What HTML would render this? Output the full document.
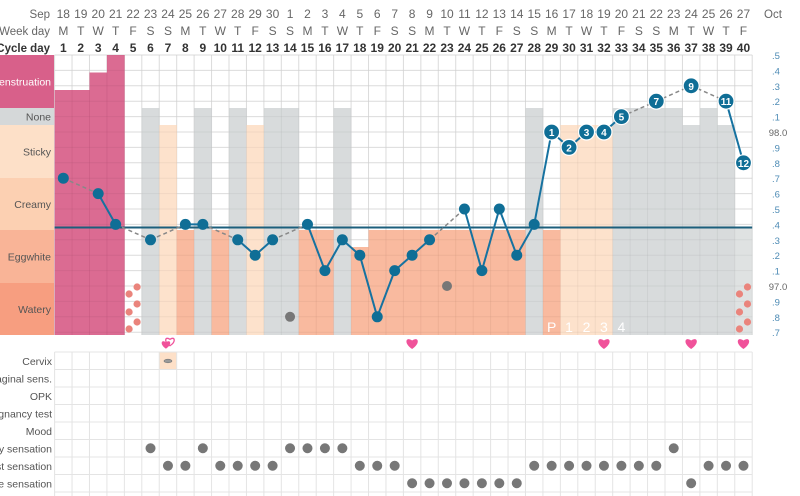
<!DOCTYPE html>
<html><head><meta charset="utf-8"><style>
html,body{margin:0;padding:0;background:#fff;width:800px;height:496px;overflow:hidden}
svg{display:block;font-family:"Liberation Sans",sans-serif}
</style></head><body>
<svg id="chart" width="800" height="496" viewBox="0 0 800 496" xmlns="http://www.w3.org/2000/svg"></svg>
<script>
const dates=[18,19,20,21,22,23,24,25,26,27,28,29,30,1,2,3,4,5,6,7,8,9,10,11,12,13,14,15,16,17,18,19,20,21,22,23,24,25,26,27];
const weekdays=["M","T","W","T","F","S","S","M","T","W","T","F","S","S","M","T","W","T","F","S","S","M","T","W","T","F","S","S","M","T","W","T","F","S","S","M","T","W","T","F"];
const menses=[3,3,4,5];
const fluid=["m","m","m","m","","none","sticky","egg","none","egg","none","sticky","none","none","egg","egg","none","egglow","egg","egg","egg","egg","egg","egg","egg","egg","egg","none","egg","sticky","sticky","sticky","none","none","none","none","none2","none","none2","none3"];
const temps=[97.7,null,97.6,97.4,null,97.3,null,97.4,97.4,null,97.3,97.2,97.3,null,97.4,97.1,97.3,97.2,96.8,97.1,97.2,97.3,null,97.5,97.1,97.5,97.2,97.4,98.0,97.9,98.0,98.0,98.1,null,98.2,null,98.3,null,98.2,97.8];
const excludedDays=[14,23];
const excludedTemps=[96.8,97.0];
const coverline=97.38;
const yTicks=[".5",".4",".3",".2",".1","98.0",".9",".8",".7",".6",".5",".4",".3",".2",".1","97.0",".9",".8",".7"];
const heartDays=[7,21,32,37,40];
const dryDays=[6,9,14,15,16,17,36];
const moistDays=[7,8,10,11,12,13,18,19,20,28,29,30,31,32,33,34,35,38,39,40];
const creativeDays=[21,22,23,24,25,26,27,37];
const spotDays=[5,40];

const svg=document.getElementById('chart');
const NS="http://www.w3.org/2000/svg";
function mk(tag,attrs,parent){const e=document.createElementNS(NS,tag);for(const k in attrs)e.setAttribute(k,attrs[k]);(parent||svg).appendChild(e);return e;}
const X0=54.6,CW=17.44,TOP=55,BOT=335;
const xL=d=>X0+(d-1)*CW; const xC=d=>X0+(d-0.5)*CW;
const yT=t=>TOP+(98.5-t)*154;
const fluidTop={none:108,none2:125,none3:228,sticky:125,egg:230,egglow:247};
const fluidCol={none:"#d5d8d9",none2:"#d5d8d9",none3:"#dcdfe0",sticky:"#fde0c8",egg:"#f9b497",egglow:"#f9b497"};

let t=mk('text',{x:50,y:18,'text-anchor':'end','font-size':11.5,fill:'#666'});t.textContent='Sep';

t=mk('text',{x:50,y:35,'text-anchor':'end','font-size':11.5,fill:'#666'});t.textContent='Week day';

t=mk('text',{x:50,y:52,'text-anchor':'end','font-size':11.5,'font-weight':'bold',fill:'#333'});t.textContent='Cycle day';

t=mk('text',{x:764,y:18,'font-size':11.5,fill:'#666'});t.textContent='Oct';

for(let i=0;i<40;i++){
  let a=mk('text',{x:xC(i+1),y:18,'text-anchor':'middle','font-size':12,fill:'#666'});a.textContent=dates[i];
  
  a=mk('text',{x:xC(i+1),y:35,'text-anchor':'middle','font-size':12,fill:'#666'});a.textContent=weekdays[i];
  
  a=mk('text',{x:xC(i+1),y:52,'text-anchor':'middle','font-size':12,'font-weight':'bold',fill:'#333'});a.textContent=i+1;
  
}
const bands=[["Menstruation",55,108,"#d8608a","#fff"],["None",108,125,"#d5d8d9","#555"],["Sticky",125,178,"#fde0c8","#555"],["Creamy",178,230,"#fcd0b2","#555"],["Eggwhite",230,283,"#f9b497","#555"],["Watery",283,335,"#f79e80","#555"]];
bands.forEach(b=>{
  const r=mk('rect',{x:0,y:b[1],width:54,height:b[2]-b[1],fill:b[3]});
  
  const tx=mk('text',{x:51,y:(b[1]+b[2])/2+4,'text-anchor':'end','font-size':10.5,fill:b[4]});tx.textContent=b[0];
  
});
for(let d=0;d<=40;d++){const l=mk('line',{x1:X0+d*CW,x2:X0+d*CW,y1:TOP,y2:BOT,stroke:'#e4e4e4','stroke-width':1});}
for(let k=0;k<19;k++){const y=TOP+k*15.4;const l=mk('line',{x1:X0,x2:X0+40*CW,y1:y,y2:y,stroke:'#e4e4e4'});}
fluid.forEach((f,i)=>{
  const d=i+1;
  if(f==='m'){const top=TOP+(5-menses[i])*17.5;const r=mk('rect',{x:xL(d),y:top,width:CW+0.3,height:BOT-top,fill:'#d8608a',opacity:0.93});
    return;}
  if(!f)return;
  const r=mk('rect',{x:xL(d),y:fluidTop[f],width:CW+0.3,height:BOT-fluidTop[f],fill:fluidCol[f],opacity:0.92});
  
});
for(let d=0;d<=40;d++){const l=mk('line',{x1:X0+d*CW,x2:X0+d*CW,y1:TOP,y2:BOT,stroke:'rgba(0,0,0,0.04)'});}
for(let k=0;k<19;k++){const y=TOP+k*15.4;const l=mk('line',{x1:X0,x2:X0+40*CW,y1:y,y2:y,stroke:'rgba(0,0,0,0.04)'});}
["P","1","2","3","4"].forEach((s,i)=>{const a=mk('text',{x:xC(29+i),y:332,'text-anchor':'middle','font-size':14,fill:'#fff'});a.textContent=s;
  });
yTicks.forEach((s,k)=>{const a=mk('text',{x:s.length>2?778:772,y:TOP+k*15.4+4,'text-anchor':s.length>2?'middle':'start','font-size':9.5,fill:s.length>2?'#666':'#4d8bb5'});a.textContent=s;
  });
spotDays.forEach(d=>{[[-4,-41],[4,-48],[-4,-23],[4,-31],[-4,-6],[4,-13]].forEach(o=>{const c=mk('circle',{cx:xC(d)+o[0],cy:BOT+o[1],r:3.6,fill:'#ea847c'});
  });});
const cl=mk('line',{x1:X0,x2:X0+40*CW,y1:yT(coverline),y2:yT(coverline),stroke:'#1c5f7c','stroke-width':2});

let prev=null;
temps.forEach((v,i)=>{if(v==null)return;if(prev!=null){const dashed=(i-prev)>1;
  const l=mk('line',{x1:xC(prev+1),y1:yT(temps[prev]),x2:xC(i+1),y2:yT(v),stroke:dashed?'#888':'#1672a0','stroke-width':dashed?1.5:2,'stroke-dasharray':dashed?'4,3':'none'});
  }prev=i;});
excludedDays.forEach((d,k)=>{const c=mk('circle',{cx:xC(d),cy:yT(excludedTemps[k]),r:5,fill:'#777'});});
temps.forEach((v,i)=>{if(v==null)return;const d=i+1;
  if(d>=29){const c=mk('circle',{cx:xC(d),cy:yT(v),r:8,fill:'#0f6e96',stroke:'#fff','stroke-width':1.2});
    const a=mk('text',{x:xC(d),y:yT(v)+4,'text-anchor':'middle','font-size':10,'font-weight':'bold',fill:'#fff'});a.textContent=d-28;}
  else{const c=mk('circle',{cx:xC(d),cy:yT(v),r:5.5,fill:'#0f6e96'});}
});
function heart(cx,cy,s,fill,stroke){return mk('path',{d:`M${cx} ${cy+5*s} C${cx-9*s} ${cy-1*s} ${cx-6*s} ${cy-8*s} ${cx} ${cy-3.5*s} C${cx+6*s} ${cy-8*s} ${cx+9*s} ${cy-1*s} ${cx} ${cy+5*s}Z`,fill:fill,stroke:stroke||'none','stroke-width':1.3});}
heartDays.forEach(d=>{
  if(d===7){let h=heart(xC(d)+2,342,0.75,'#fff','#f0529a');
    h=heart(xC(d)-2,345,0.75,'#f0529a');}
  else{const h=heart(xC(d),344,1,'#f0529a');}
});
const rows=["Cervix","Vaginal sens.","OPK","Pregnancy test","Mood","Dry sensation","Moist sensation","Creative sensation"];
const RT=352,RH=17.5;
const cr=mk('rect',{x:xL(7),y:RT,width:CW,height:RH,fill:'#fde0c8'});
const ce=mk('ellipse',{cx:xC(7),cy:RT+9,rx:4,ry:1.8,fill:'#999',stroke:'#777','stroke-width':0.6});
for(let k=0;k<=8;k++){const l=mk('line',{x1:X0,x2:X0+40*CW,y1:RT+k*RH,y2:RT+k*RH,stroke:'#e4e4e4'});}
for(let d=0;d<=40;d++){const l=mk('line',{x1:X0+d*CW,x2:X0+d*CW,y1:RT,y2:496,stroke:'#e4e4e4'});}
rows.forEach((r,k)=>{const a=mk('text',{x:52,y:RT+k*RH+13,'text-anchor':'end','font-size':10.5,fill:'#555'});a.textContent=r;});
[[dryDays,5],[moistDays,6],[creativeDays,7]].forEach(p=>{p[0].forEach(d=>{const c=mk('circle',{cx:xC(d),cy:RT+p[1]*RH+RH/2,r:5,fill:'#777'});});});
</script>
</body></html>
